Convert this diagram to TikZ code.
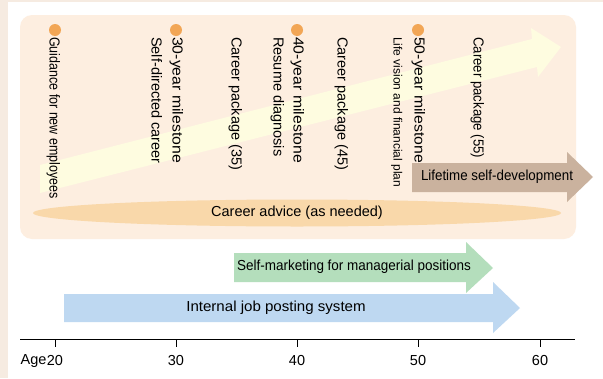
\documentclass[tikz,border=0pt]{standalone}
\usepackage{fontspec}
\setmainfont{Liberation Sans}
\usepackage{tikz}
\usetikzlibrary{calc}
\usetikzlibrary{positioning}
\usetikzlibrary{shapes.geometric}

\definecolor{outerbeige}{HTML}{F6EBE1}
\definecolor{panelfill}{HTML}{FDEEE0}
\definecolor{pathyellow}{HTML}{FEFCE0}
\definecolor{advicefill}{HTML}{F9D8AA}
\definecolor{lifebrown}{HTML}{CAB29E}
\definecolor{mgrgreen}{HTML}{B4DEBC}
\definecolor{jobblue}{HTML}{BED8F1}
\definecolor{dotorange}{HTML}{F2A655}

\begin{document}
\begin{tikzpicture}[x=1pt,y=-1pt,font=\fontsize{14.5}{17}\selectfont]
 \tikzstyle{dot}=[circle, fill=dotorange, minimum size=12pt, inner sep=0pt]
 \tikzstyle{vlabel}=[rotate=-90, anchor=west, inner sep=0pt, text height=10pt, text depth=3pt]
 \tikzstyle{barlabel}=[inner sep=0pt]
 \tikzstyle{tick}=[semithick]
 \useasboundingbox (0,0) rectangle (603,378);
 \fill[white] (0,0) rectangle (603,378);
 \fill[outerbeige] (0,0) rectangle (8,378);
 \fill[outerbeige] (0,0) rectangle (603,2);
 % panel with the career path
 \fill[panelfill, rounded corners=12pt] (20,15) rectangle (576,239);
 \fill[pathyellow] (40,165) -- (532,39) -- (531,28) -- (561,47) -- (538,77) -- (537,67) -- (40,193) -- cycle;
 \node[ellipse, fill=advicefill, minimum width=528pt, minimum height=27pt, inner sep=0pt] (advice) at (297,213) {Career advice (as needed)};
 \fill[lifebrown] (412,163) -- (567,163) -- (567,152) -- (593,177) -- (567,202) -- (567,192) -- (412,192) -- cycle;
 \node[barlabel] (lifetime) at (497,177) {\scalebox{0.92}[1]{Lifetime self-development}};
 % milestones
 \foreach \x/\a in {55/20,176/30,297/40,418/50}
   \node[dot] (dot\a) at (\x,30) {};
 \node[vlabel] (guide)  at (53,37)  {\scalebox{0.86}[1]{Guidance for new employees}};
 \node[vlabel] (self)   at (155,37) {Self-directed career};
 \node[vlabel] (ms30)   at (176,37) {\scalebox{1.09}[1]{30-year milestone}};
 \node[vlabel] (pack35) at (235,37) {Career package (35)};
 \node[vlabel] (resume) at (277,37) {Resume diagnosis};
 \node[vlabel] (ms40)   at (297,37) {\scalebox{1.09}[1]{40-year milestone}};
 \node[vlabel] (pack45) at (341,37) {Career package (45)};
 \node[vlabel, font=\fontsize{12}{14}\selectfont] (life) at (397,37) {Life vision and financial plan};
 \node[vlabel] (ms50)   at (418,37) {\scalebox{1.09}[1]{50-year milestone}};
 \node[vlabel] (pack55) at (477,37) {\scalebox{0.91}[1]{Career package (55)}};
 % company-wide systems
 \fill[mgrgreen] (234,253) -- (466,253) -- (466,242) -- (493,268) -- (466,293) -- (466,282) -- (234,282) -- cycle;
 \node[barlabel] (selfmkt) at (354,267) {\scalebox{0.93}[1]{Self-marketing for managerial positions}};
 \fill[jobblue] (64,294) -- (493,294) -- (493,282) -- (520,308) -- (493,333) -- (493,322) -- (64,322) -- cycle;
 \node[barlabel] (posting) at (276,308) {\scalebox{1.04}[1]{Internal job posting system}};
 % age axis
 \draw[semithick] (20,339) -- (575,339);
 \foreach \x/\a in {55/20,176/30,297/40,418/50,540/60} {
   \draw[tick] (\x,339) -- (\x,347);
   \node[barlabel] (age\a) at (\x,361) {\a};
 }
 \node[barlabel, left=0pt of age20] (agelbl) {Age};
\end{tikzpicture}
\end{document}
